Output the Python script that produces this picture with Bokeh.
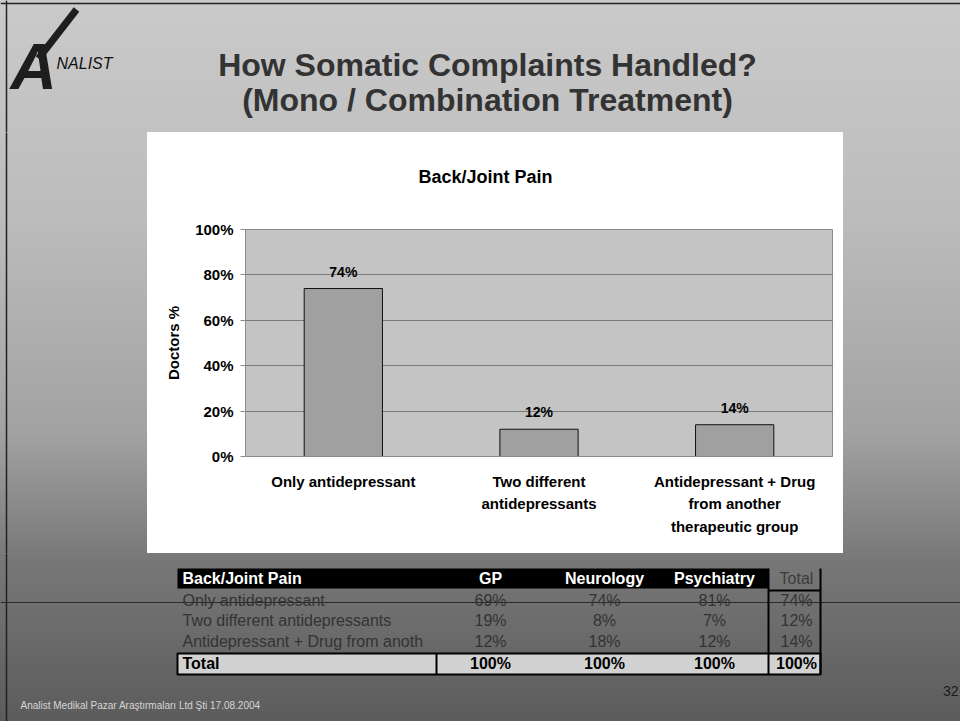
from bokeh.plotting import figure
from bokeh.models import (ColumnDataSource, FactorRange, Range1d, FixedTicker,
                          NumeralTickFormatter, LabelSet, Spacer)
from bokeh.layouts import column, row
from bokeh.embed import file_html
from bokeh.resources import INLINE
from bokeh.core.properties import value

# ---------------- data ----------------
slide_title = ["How Somatic Complaints Handled?", "(Mono / Combination Treatment)"]
chart_title = ["Back/Joint Pain"]
categories = ["Only antidepressant",
              "Two different\nantidepressants",
              "Antidepressant + Drug\nfrom another\ntherapeutic group"]
shares = [0.74, 0.12, 0.14]
share_labels = ["74%", "12%", "14%"]
y_ticks = [0, 0.2, 0.4, 0.6, 0.8, 1.0]
y_label = "Doctors %"

table_header = ["Back/Joint Pain", "GP", "Neurology", "Psychiatry", "Total"]
table_rows = ["Only antidepressant", "Two different antidepressants",
              "Antidepressant + Drug from anoth"]
gp = ["69%", "19%", "12%"]
neurology = ["74%", "8%", "18%"]
psychiatry = ["81%", "7%", "12%"]
total = ["74%", "12%", "14%"]
total_row = ["Total", "100%", "100%", "100%", "100%"]

footer = "Analist Medikal Pazar Araştırmaları Ltd Şti 17.08.2004"
page_no = "32"

FONT_NAME = "Liberation Sans"
FONT = value(FONT_NAME)


def canvas(width, height, x0, x1, y0, y1, fill=None, **kw):
    opts = dict(min_border=0)
    opts.update(kw)
    f = figure(width=width, height=height, x_range=Range1d(x0, x1), y_range=Range1d(y1, y0),
               x_axis_location=None, y_axis_location=None, output_backend="svg",
               toolbar_location=None, **opts)
    f.grid.visible = False
    f.outline_line_color = None
    f.background_fill_color = fill
    f.border_fill_color = fill
    return f


# ---------------- top band (logo + slide title) ----------------
top = canvas(960, 132, 0, 960, 0, 132)
top.segment(x0=[6, 0], y0=[0, 3], x1=[6, 960], y1=[132, 3], line_width=1.5, line_color="#222222")
top.segment(x0=[38], y0=[58], x1=[76], y1=[9], line_width=7, line_color="#1e1e1e")
top.text(x=[10], y=[66], text=["A"], text_font=FONT, text_font_size="64px",
         text_font_style="bold italic", text_color="#1e1e1e", text_baseline="alphabetic")
top.text(x=[56], y=[63], text=["NALIST"], text_font=FONT, text_font_size="16px",
         text_font_style="italic", text_color="#111111", text_baseline="alphabetic")
top.text(x=[487, 487], y=[64, 99], text=slide_title, text_font=FONT,
         text_font_size="32px", text_font_style="bold", text_color="#333333",
         text_align="center", text_baseline="middle")

# ---------------- side strips ----------------
left = canvas(147, 421, 0, 147, 132, 553)
left.segment(x0=[6], y0=[130], x1=[6], y1=[555], line_width=1.5, line_color="#222222")
right = Spacer(width=117, height=421)

# ---------------- chart title strip (frame lined up with the plot frame) ----------------
head = canvas(696, 60, 245, 832, 132, 192, fill="white",
              min_border_left=98, min_border_right=11, min_border_top=0, min_border_bottom=0)
head.text(x=[418], y=[176], text=chart_title, text_font=FONT, text_font_size="18px",
          text_font_style="bold", text_color="#000000", text_baseline="middle")

# ---------------- bar chart ----------------
src = ColumnDataSource(dict(cat=categories, share=shares, lab=share_labels))
p = figure(width=696, height=361, x_range=FactorRange(*categories, range_padding=0),
           y_range=Range1d(0, 1), output_backend="svg", toolbar_location=None,
           min_border_left=98, min_border_right=11, min_border_top=37, min_border_bottom=97)
p.border_fill_color = "white"
p.background_fill_color = "#c4c4c4"
p.outline_line_color = "#8c8c8c"

p.vbar(x="cat", top="share", width=0.40, source=src, fill_color="#a0a0a0",
       line_color="#111111", line_width=1)
p.add_layout(LabelSet(x="cat", y="share", text="lab", source=src, y_offset=17,
                      text_align="center", text_baseline="middle",
                      text_font=FONT, text_font_size=value("14px"),
                      text_font_style="bold", text_color="#000000"))

p.xgrid.visible = False
p.ygrid.ticker = FixedTicker(ticks=y_ticks)
p.ygrid.grid_line_color = "#7a7a7a"
p.ygrid.grid_line_width = 1

p.yaxis.ticker = FixedTicker(ticks=y_ticks)
p.yaxis.formatter = NumeralTickFormatter(format="0%")
p.yaxis.axis_label = y_label
p.yaxis.axis_label_text_font = FONT_NAME
p.yaxis.axis_label_text_font_size = "15px"
p.yaxis.axis_label_text_font_style = "bold"
p.yaxis.axis_label_text_color = "#000000"
p.yaxis.axis_label_standoff = 10
p.yaxis.major_label_text_font = FONT_NAME
p.yaxis.major_label_text_font_size = "15px"
p.yaxis.major_label_text_font_style = "bold"
p.yaxis.major_label_text_color = "#000000"
p.yaxis.major_label_standoff = 7
p.yaxis.major_tick_out = 5
p.yaxis.major_tick_in = 0
p.yaxis.minor_tick_line_color = None
p.yaxis.axis_line_color = "#8c8c8c"
p.yaxis.major_tick_line_color = "#8c8c8c"

p.xaxis.major_label_text_font = FONT_NAME
p.xaxis.major_label_text_font_size = "15px"
p.xaxis.major_label_text_font_style = "bold"
p.xaxis.major_label_text_color = "#000000"
p.xaxis.major_label_text_line_height = 1.35
p.xaxis.major_label_standoff = 16
p.xaxis.major_tick_out = 0
p.xaxis.major_tick_in = 0
p.xaxis.axis_line_color = "#8c8c8c"

# ---------------- bottom band (table + footer) ----------------
bot = canvas(960, 168, 0, 960, 553, 721)

col_x = [182, 490, 604, 714, 796]
row_y = [600, 620, 641]
header_y = 578
total_y = 663

bot.segment(x0=[6], y0=[551], x1=[6], y1=[721], line_width=1.5, line_color="#222222")
bot.segment(x0=[0], y0=[602], x1=[960], y1=[602], line_color="#2a2a2a", line_width=1)
bot.quad(left=[177], right=[768], top=[568], bottom=[588], fill_color="#000000", line_color=None)
bot.quad(left=[177], right=[820], top=[653], bottom=[674], fill_color="#d2d2d2",
         line_color="#000000", line_width=2)
bot.segment(x0=[768, 820, 768, 436], y0=[568, 568, 590, 653],
            x1=[768, 820, 820, 436], y1=[674, 674, 590, 674],
            line_color="#000000", line_width=2)

bot.text(x=[col_x[0]], y=[header_y], text=[table_header[0]], text_font=FONT,
         text_font_size="16px", text_font_style="bold", text_color="white",
         text_baseline="middle")
bot.text(x=col_x[1:4], y=[header_y] * 3, text=table_header[1:4], text_font=FONT,
         text_font_size="16px", text_font_style="bold", text_color="white",
         text_align="center", text_baseline="middle")
bot.text(x=[col_x[4]], y=[header_y], text=[table_header[4]], text_font=FONT,
         text_font_size="16px", text_color="#3c3c3c",
         text_align="center", text_baseline="middle")

bot.text(x=[col_x[0]] * 3, y=row_y, text=table_rows, text_font=FONT,
         text_font_size="16px", text_color="#333333", text_baseline="middle")
for cx, vals in zip(col_x[1:], [gp, neurology, psychiatry, total]):
    bot.text(x=[cx] * 3, y=row_y, text=vals, text_font=FONT, text_font_size="16px",
             text_color="#333333", text_align="center", text_baseline="middle")

bot.text(x=[col_x[0]], y=[total_y], text=[total_row[0]], text_font=FONT,
         text_font_size="16px", text_font_style="bold", text_color="#000000",
         text_baseline="middle")
bot.text(x=col_x[1:], y=[total_y] * 4, text=total_row[1:], text_font=FONT,
         text_font_size="16px", text_font_style="bold", text_color="#000000",
         text_align="center", text_baseline="middle")

bot.text(x=[20], y=[705], text=[footer], text_font=FONT, text_font_size="10px",
         text_color="#d6d6d6", text_baseline="middle")
bot.text(x=[958], y=[690], text=[page_no], text_font=FONT, text_font_size="14px",
         text_color="#1a1a1a", text_align="right", text_baseline="middle")

layout = column(
    top,
    row(left, column(head, p, styles={"background": "white"}), right),
    bot,
    styles={"background": "linear-gradient(to bottom, #cacaca 0%, #bcbcbc 30%, "
                          "#a2a2a2 60%, #777777 78%, #5c5c5c 100%)"},
)

open("out.html", "w").write(file_html(layout, INLINE))
